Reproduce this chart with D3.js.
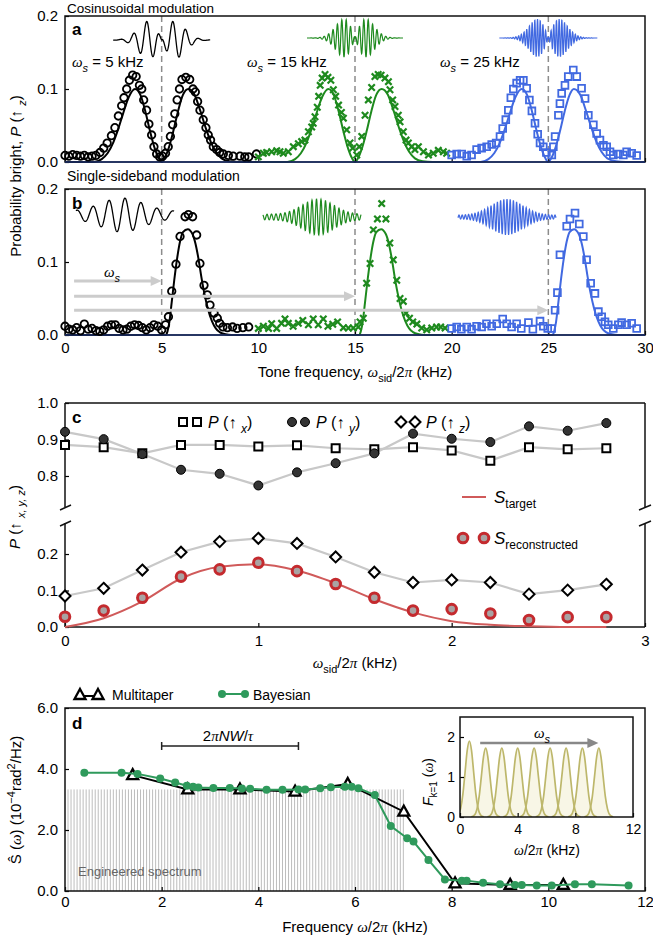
<!DOCTYPE html>
<html>
<head>
<meta charset="utf-8">
<script src="https://d3js.org/d3.v7.min.js"></script>
<style>
  body { margin: 0; background: #fff; }
</style>
</head>
<body>
<script>
// ---------- data ----------

// panel a : cosinusoidal modulation, data + fits  [tone kHz, P]
var aBlackPts = [[0,0.009],[0.2,0.008],[0.4,0.010],[0.6,0.009],[0.8,0.008],[1.0,0.009],[1.2,0.007],[1.4,0.008],[1.6,0.009],
  [1.81,0.013],[2.0,0.019],[2.18,0.026],[2.4,0.036],[2.58,0.047],[2.76,0.063],[2.93,0.077],[3.05,0.088],[3.19,0.1],[3.33,0.112],
  [3.5,0.119],[3.68,0.117],[3.85,0.105],[3.97,0.1],[4.07,0.085],[4.22,0.071],[4.34,0.052],[4.48,0.037],[4.6,0.021],[4.74,0.011],
  [4.9,0.007],[5.05,0.008],[5.2,0.012],[5.34,0.021],[5.45,0.035],[5.57,0.051],[5.68,0.066],[5.8,0.085],[5.92,0.1],[6.05,0.113],
  [6.25,0.116],[6.45,0.113],[6.62,0.1],[6.74,0.096],[6.86,0.083],[6.98,0.071],[7.15,0.058],[7.29,0.047],[7.41,0.037],[7.53,0.03],
  [7.67,0.021],[7.84,0.017],[8.0,0.013],[8.19,0.011],[8.45,0.009],[8.7,0.008],[9.05,0.008],[9.3,0.007],[9.5,0.007],[9.9,0.011]];
var aGreenPts = [[10.0,0.007],[10.26,0.012],[10.43,0.013],[10.69,0.014],[10.95,0.0155],[11.12,0.014],[11.29,0.012],[11.55,0.014],
  [11.81,0.021],[12.07,0.025],[12.24,0.028],[12.41,0.03],[12.59,0.0415],[12.76,0.048],[12.84,0.053],[12.93,0.062],[13.05,0.075],
  [13.12,0.09],[13.2,0.105],[13.3,0.115],[13.45,0.12],[13.6,0.116],[13.75,0.112],[13.88,0.099],[14.0,0.09],[14.15,0.078],[14.3,0.068],
  [14.4,0.06],[14.57,0.044],[14.74,0.026],[14.88,0.019],[15.09,0.0096],[15.22,0.021],[15.35,0.035],[15.52,0.064],[15.69,0.085],
  [15.86,0.102],[16.03,0.117],[16.2,0.12],[16.35,0.119],[16.55,0.115],[16.73,0.11],[16.81,0.099],[16.95,0.085],[17.07,0.076],
  [17.24,0.064],[17.33,0.055],[17.5,0.0415],[17.64,0.03],[17.76,0.026],[17.93,0.021],[18.1,0.017],[18.28,0.021],[18.54,0.014],
  [18.8,0.0096],[19.05,0.012],[19.31,0.016],[19.57,0.014],[19.74,0.012]];
var aBluePts = [[20.0,0.0096],[20.26,0.011],[20.52,0.011],[20.78,0.008],[21.03,0.0096],[21.29,0.017],[21.55,0.019],[21.81,0.021],
  [22.07,0.024],[22.3,0.026],[22.5,0.035],[22.64,0.046],[22.8,0.058],[22.93,0.071],[23.06,0.088],[23.19,0.1],[23.36,0.108],
  [23.54,0.112],[23.71,0.112],[23.88,0.101],[24.02,0.085],[24.15,0.07],[24.31,0.053],[24.45,0.038],[24.57,0.026],[24.74,0.021],
  [24.9,0.013],[25.18,0.0096],[25.26,0.021],[25.35,0.035],[25.52,0.064],[25.6,0.08],[25.69,0.094],[25.86,0.105],[26.03,0.117],
  [26.29,0.126],[26.47,0.117],[26.72,0.101],[26.9,0.087],[27.07,0.064],[27.33,0.051],[27.5,0.039],[27.67,0.03],[27.85,0.023],
  [28.02,0.021],[28.19,0.014],[28.36,0.0096],[28.62,0.011],[28.88,0.0096],[29.05,0.014],[29.31,0.012],[29.57,0.009]];
var aBlackFit = [[0,0],[1.5,0],[1.9,0.004],[2.2,0.012],[2.5,0.027],[2.75,0.045],[3.0,0.066],[3.3,0.089],[3.62,0.1],[3.9,0.092],
  [4.15,0.07],[4.4,0.042],[4.65,0.018],[4.85,0.005],[5.0,0],[5.15,0.005],[5.35,0.018],[5.6,0.042],[5.85,0.07],[6.1,0.092],
  [6.38,0.1],[6.7,0.092],[7.0,0.07],[7.3,0.045],[7.55,0.027],[7.8,0.014],[8.1,0.005],[8.5,0.001],[9.0,0],[10,0]];
var aGreenFit = [[10,0],[11.5,0],[11.9,0.004],[12.2,0.012],[12.5,0.027],[12.75,0.045],[13.0,0.066],[13.3,0.089],[13.62,0.1],[13.9,0.092],
  [14.15,0.07],[14.4,0.042],[14.65,0.018],[14.85,0.005],[15.0,0],[15.15,0.005],[15.35,0.018],[15.6,0.042],[15.85,0.07],[16.1,0.092],
  [16.38,0.1],[16.7,0.092],[17.0,0.07],[17.3,0.045],[17.55,0.027],[17.8,0.014],[18.1,0.005],[18.5,0.001],[19.0,0],[20,0]];
var aBlueFit = [[20,0],[21.5,0],[21.9,0.004],[22.2,0.012],[22.5,0.027],[22.75,0.045],[23.0,0.066],[23.3,0.089],[23.62,0.1],[23.9,0.092],
  [24.15,0.07],[24.4,0.042],[24.65,0.018],[24.85,0.005],[25.0,0],[25.15,0.005],[25.35,0.018],[25.6,0.042],[25.85,0.07],[26.1,0.092],
  [26.32,0.1],[26.65,0.092],[26.95,0.07],[27.25,0.045],[27.5,0.027],[27.75,0.014],[28.05,0.005],[28.5,0.001],[29.0,0],[30,0]];

// panel b : single-sideband modulation
var bBlackPts = [[0,0.012],[0.2,0.008],[0.4,0.007],[0.6,0.010],[0.8,0.006],[1.0,0.015],[1.2,0.008],[1.4,0.009],[1.6,0.006],
  [1.8,0.005],[2.0,0.007],[2.2,0.012],[2.4,0.014],[2.6,0.014],[2.8,0.009],[3.0,0.007],[3.2,0.008],[3.4,0.012],[3.6,0.014],
  [3.8,0.013],[4.0,0.010],[4.2,0.007],[4.4,0.010],[4.6,0.014],[4.8,0.012],[5.0,0.007],[5.2,0.014],[5.35,0.025],[5.52,0.06],
  [5.74,0.097],[5.95,0.135],[6.21,0.162],[6.38,0.165],[6.6,0.162],[6.81,0.137],[6.98,0.098],[7.19,0.068],[7.36,0.055],[7.5,0.041],
  [7.71,0.03],[7.88,0.023],[8.0,0.016],[8.17,0.011],[8.4,0.01],[8.67,0.011],[8.9,0.009],[9.2,0.01],[9.5,0.011]];
var bGreenPts = [[10.0,0.009],[10.26,0.012],[10.53,0.009],[10.69,0.0155],[10.95,0.009],[11.2,0.016],[11.38,0.022],[11.55,0.016],
  [11.8,0.012],[12.07,0.016],[12.3,0.02],[12.59,0.014],[12.84,0.022],[13.1,0.014],[13.36,0.022],[13.6,0.012],[13.85,0.0147],
  [14.1,0.018],[14.4,0.01],[14.66,0.0096],[14.91,0.0096],[15.17,0.011],[15.26,0.018],[15.43,0.023],[15.6,0.071],[15.78,0.098],
  [15.95,0.144],[16.16,0.159],[16.38,0.18],[16.6,0.159],[16.8,0.126],[16.98,0.103],[17.16,0.075],[17.33,0.05],[17.5,0.046],
  [17.64,0.03],[17.82,0.023],[17.99,0.018],[18.2,0.015],[18.45,0.0096],[18.71,0.007],[18.97,0.0096],[19.22,0.011],[19.43,0.011],[19.66,0.0096]];
var bBluePts = [[20.0,0.009],[20.26,0.011],[20.5,0.008],[20.78,0.011],[21.03,0.008],[21.29,0.012],[21.55,0.011],[21.8,0.0155],
  [22.07,0.012],[22.33,0.0155],[22.64,0.022],[22.85,0.0155],[23.1,0.011],[23.36,0.0155],[23.6,0.009],[23.97,0.017],[24.2,0.008],
  [24.57,0.019],[24.74,0.012],[24.97,0.009],[25.17,0.009],[25.35,0.034],[25.47,0.058],[25.6,0.11],[25.95,0.149],[26.12,0.159],
  [26.38,0.167],[26.6,0.152],[26.81,0.135],[26.98,0.103],[27.19,0.071],[27.41,0.057],[27.59,0.032],[27.76,0.025],[27.93,0.018],
  [28.1,0.014],[28.36,0.009],[28.62,0.014],[28.79,0.017],[29.05,0.014],[29.31,0.016],[29.57,0.009]];
var bBlackFit = [[0,0],[5.2,0],[5.3,0.005],[5.4,0.018],[5.52,0.045],[5.65,0.075],[5.8,0.105],[5.95,0.128],[6.1,0.141],[6.35,0.145],
  [6.6,0.138],[6.75,0.125],[6.9,0.105],[7.05,0.08],[7.2,0.058],[7.4,0.035],[7.6,0.019],[7.8,0.009],[8.0,0.004],[8.3,0.001],[8.6,0],[10,0]];
var bGreenFit = [[10,0],[15.2,0],[15.3,0.005],[15.4,0.018],[15.52,0.045],[15.65,0.075],[15.8,0.105],[15.95,0.128],[16.1,0.141],[16.35,0.145],
  [16.6,0.138],[16.75,0.125],[16.9,0.105],[17.05,0.08],[17.2,0.058],[17.4,0.035],[17.6,0.019],[17.8,0.009],[18.0,0.004],[18.3,0.001],[18.6,0],[20,0]];
var bBlueFit = [[20,0],[25.2,0],[25.3,0.005],[25.4,0.018],[25.52,0.045],[25.65,0.075],[25.8,0.105],[25.95,0.128],[26.1,0.141],[26.33,0.145],
  [26.58,0.138],[26.73,0.125],[26.88,0.105],[27.03,0.08],[27.18,0.058],[27.38,0.035],[27.58,0.019],[27.78,0.009],[27.98,0.004],[28.3,0.001],[28.6,0],[30,0]];

var toneFreqs = [5, 15, 25];          // omega_s, kHz
var arrowLevels = [0.074, 0.053, 0.034];
var abTicks = [0, 5, 10, 15, 20, 25, 30];

// panel c
var cFreq  = [0, 0.2, 0.4, 0.6, 0.8, 1.0, 1.2, 1.4, 1.6, 1.8, 2.0, 2.2, 2.4, 2.6, 2.8];
var cPx    = [0.885,0.879,0.862,0.885,0.885,0.881,0.884,0.876,0.873,0.879,0.870,0.842,0.879,0.873,0.876];
var cPy    = [0.921,0.901,0.860,0.817,0.806,0.774,0.810,0.835,0.862,0.916,0.902,0.893,0.936,0.924,0.945];
var cPz    = [0.085,0.106,0.156,0.205,0.234,0.243,0.229,0.192,0.150,0.122,0.129,0.122,0.090,0.101,0.117];
var cRecon = [0.028,0.045,0.080,0.138,0.158,0.176,0.153,0.118,0.080,0.045,0.049,0.037,0.019,0.027,0.027];
var cTarget= [0.000,0.024,0.070,0.133,0.165,0.172,0.155,0.120,0.076,0.040,0.016,0.006,0.002,0.000,0.000];

// panel d
var mtFreq = [1.4, 2.54, 3.62, 4.76, 5.85, 7.01, 8.07, 9.21, 10.31];
var mtVal  = [3.80, 3.33, 3.33, 3.26, 3.51, 2.60, 0.25, 0.20, 0.20];
var bayFreq = [0.4,1.17,1.5,1.97,2.28,2.52,2.65,2.76,3.07,3.41,3.66,3.83,4.17,4.5,4.83,4.97,5.28,5.5,5.79,5.93,6.07,
  6.41,6.74,7.08,7.21,7.52,7.86,8.21,8.31,8.65,9.0,9.31,9.45,9.76,10.07,10.55,10.9,11.66];
var bayVal  = [3.88,3.88,3.84,3.69,3.56,3.45,3.42,3.39,3.38,3.38,3.36,3.35,3.32,3.32,3.33,3.33,3.37,3.40,3.42,3.42,3.37,
  3.15,2.13,1.73,1.62,1.02,0.38,0.34,0.34,0.27,0.22,0.20,0.20,0.18,0.18,0.22,0.22,0.18];
var combStep = 0.0625, combEnd = 7.0, combLevel = 3.33;   // engineered tone comb
var nwBand = [2.0, 4.83];

// inset: filter functions F_{k=1}
var fCenters = [0.65, 1.78, 2.9, 4.0, 5.14, 6.25, 7.36, 8.49, 9.63];
var fPeaks   = [1.9, 1.72, 1.72, 1.72, 1.72, 1.72, 1.72, 1.72, 1.72];
var fShapeDx = [-1.0,-0.8,-0.6,-0.45,-0.3,-0.15,0,0.15,0.3,0.45,0.6,0.8,1.0];
var fShapeY  = [0.003,0.022,0.118,0.30,0.586,0.875,1,0.875,0.586,0.30,0.118,0.022,0.003];

// ---------- drawing ----------
var SANS = '"Liberation Sans", Arial, Helvetica, sans-serif';
var SERIF = '"Liberation Serif", "Times New Roman", serif';
var GREEN = "#1e8a1e", BLUE = "#4169e1", RED = "#c42a2e", BAYG = "#2f9a5c";

var svg = d3.select("body").append("svg")
    .attr("width", 653).attr("height", 937)
    .style("font-family", SANS);

function txt(p, x, y, fs, anchor) {
  return p.append("text").attr("x", x).attr("y", y).attr("font-size", fs)
    .attr("text-anchor", anchor || "start").attr("fill", "#000");
}
// text with sub/superscripts and italic greek
function rich(t, fs, parts) {
  var shift = 0;
  parts.forEach(function(p) {
    if (typeof p === "string") p = {t: p};
    var ts = t.append("tspan").text(p.t);
    var want = p.sub ? Math.round(fs * 0.3) : (p.sup ? -Math.round(fs * 0.4) : 0);
    if (want !== shift) { ts.attr("dy", want - shift); shift = want; }
    if (p.sub || p.sup) ts.attr("font-size", Math.round(fs * 0.72));
    if (p.it) ts.attr("font-style", "italic");
    if (p.gr) ts.attr("font-family", SERIF).attr("font-style", "italic");
  });
  return t;
}
function styleAxis(g, fs) {
  g.select(".domain").remove();
  g.selectAll(".tick line").attr("stroke", "#000").attr("stroke-width", 1.2);
  g.selectAll(".tick text").attr("font-size", fs).attr("font-family", SANS).attr("fill", "#000");
}
function crossPath(s) { return "M" + (-s) + "," + (-s) + "L" + s + "," + s + "M" + (-s) + "," + s + "L" + s + "," + (-s); }

// decorative waveform pictograms (envelope x carrier)
function wave(g, cx, cy, halfW, amp, period, phase, env, color, sw) {
  var pts = d3.range(-halfW, halfW + 0.01, 0.2).map(function(u) {
    return [cx + u, cy - amp * env(u) * Math.cos(2 * Math.PI * (u - phase) / period)];
  });
  g.append("path").attr("d", d3.line()(pts)).attr("fill", "none")
    .attr("stroke", color).attr("stroke-width", sw);
}
function twoLobe(s) { return function(u) { var r = Math.abs(u) / s; return r * Math.exp(0.5 * (1 - r * r)); }; }
function oneLobe(floor, c, w) { return function(u) { return floor + (1 - floor) * Math.exp(-Math.pow((u - c) / w, 2)); }; }

// ===== panels a & b =====
var xAB = d3.scaleLinear().domain([0, 30]).range([65, 645]);
var yA = d3.scaleLinear().domain([0, 0.2]).range([162, 16]);
var yB = d3.scaleLinear().domain([0, 0.2]).range([335, 189]);

function drawSpecPanel(y, fits, sets, showX) {
  var g = svg.append("g");
  toneFreqs.forEach(function(f) {
    g.append("line").attr("x1", xAB(f)).attr("x2", xAB(f)).attr("y1", y(0.2)).attr("y2", y(0))
      .attr("stroke", "#8c8c8c").attr("stroke-width", 1.5).attr("stroke-dasharray", "6,4");
  });
  var line = d3.line().x(function(d) { return xAB(d[0]); }).y(function(d) { return y(d[1]); })
    .curve(d3.curveMonotoneX);
  fits.forEach(function(f) {
    g.append("path").attr("d", line(f.d)).attr("fill", "none").attr("stroke", f.c).attr("stroke-width", 2);
  });
  var ax = d3.axisLeft(y).tickValues([0, 0.1, 0.2]).tickFormat(d3.format(".1f")).tickSize(-4).tickPadding(7);
  styleAxis(g.append("g").attr("transform", "translate(65,0)").call(ax), 15);
  var bx = d3.axisBottom(xAB).tickValues(abTicks).tickSize(-4).tickPadding(7)
    .tickFormat(showX ? d3.format("d") : "");
  styleAxis(g.append("g").attr("transform", "translate(0," + y(0) + ")").call(bx), 15);
  g.append("rect").attr("x", 65).attr("y", y(0.2)).attr("width", 580).attr("height", y(0) - y(0.2))
    .attr("fill", "none").attr("stroke", "#111").attr("stroke-width", 1.5);
  g.append("line").attr("x1", 65).attr("x2", 645).attr("y1", y(0)).attr("y2", y(0))
    .attr("stroke", "#1b2f6b").attr("stroke-width", 1.6);
  sets.forEach(function(s) {
    var m = g.append("g").selectAll("path").data(s.d).enter().append("path")
      .attr("transform", function(d) { return "translate(" + xAB(d[0]) + "," + y(d[1]) + ")"; })
      .attr("fill", "none").attr("stroke", s.c).attr("stroke-width", s.sw);
    if (s.k === "o") m.attr("d", d3.symbol(d3.symbolCircle, 44));
    if (s.k === "x") m.attr("d", crossPath(3.2));
    if (s.k === "s") m.attr("d", d3.symbol(d3.symbolSquare, 46));
  });
  return g;
}

var gA = drawSpecPanel(yA,
  [{d: aBlackFit, c: "#000"}, {d: aGreenFit, c: GREEN}, {d: aBlueFit, c: BLUE}],
  [{d: aBlackPts, c: "#000", k: "o", sw: 1.8}, {d: aGreenPts, c: GREEN, k: "x", sw: 2.2}, {d: aBluePts, c: BLUE, k: "s", sw: 1.8}],
  false);
var gB = drawSpecPanel(yB,
  [{d: bBlackFit, c: "#000"}, {d: bGreenFit, c: GREEN}, {d: bBlueFit, c: BLUE}],
  [{d: bBlackPts, c: "#000", k: "o", sw: 1.8}, {d: bGreenPts, c: GREEN, k: "x", sw: 2.2}, {d: bBluePts, c: BLUE, k: "s", sw: 1.8}],
  true);

// pictograms
wave(gA, xAB(5), 40, 48.5, 19, 13, -2, twoLobe(13), "#000", 1.3);
wave(gA, xAB(15), 38, 48, 19, 4.4, 0, twoLobe(11), GREEN, 1.2);
wave(gA, xAB(25), 38, 49, 19, 2.7, 0, twoLobe(11), BLUE, 1.2);
wave(gB, 125, 215, 49, 17, 16, 0, oneLobe(0.2, -3, 30), "#000", 1.3);
wave(gB, 312, 217, 49, 18, 4.5, 0, oneLobe(0.15, 6, 22), GREEN, 1.2);
wave(gB, 507, 217, 49, 18, 3.2, 0, oneLobe(0.1, 0, 22), BLUE, 1.2);

// sideband arrows
toneFreqs.forEach(function(f, i) {
  var yy = yB(arrowLevels[i]), x1 = xAB(0.47), x2 = xAB(f);
  gB.append("line").attr("x1", x1).attr("x2", x2 - 9).attr("y1", yy).attr("y2", yy)
    .attr("stroke", "#cccccc").attr("stroke-width", 3);
  gB.append("path").attr("d", "M" + x2 + "," + yy + "L" + (x2 - 11) + "," + (yy - 5) + "L" + (x2 - 11) + "," + (yy + 5) + "Z")
    .attr("fill", "#cccccc");
});
rich(txt(gB, 104, 277, 15), 15, [{t: "ω", gr: 1}, {t: "s", sub: 1, it: 1}]);

// labels a/b
txt(svg, 67, 13, 13.5).text("Cosinusoidal modulation");
txt(svg, 67, 181, 14).text("Single-sideband modulation");
txt(svg, 72, 35, 17).attr("font-weight", "bold").text("a");
txt(svg, 72, 209, 17).attr("font-weight", "bold").text("b");
[[72, "5"], [247, "15"], [440, "25"]].forEach(function(d) {
  rich(txt(svg, d[0], 67, 15), 15, [{t: "ω", gr: 1}, {t: "s", sub: 1, it: 1}, " = " + d[1] + " kHz"]);
});
rich(txt(svg, 355, 377, 15, "middle"), 15, ["Tone frequency, ", {t: "ω", gr: 1}, {t: "sid", sub: 1}, "/2", {t: "π", gr: 1}, " (kHz)"]);
rich(txt(svg, 0, 0, 15, "middle").attr("transform", "translate(21,176) rotate(-90)"), 15,
  ["Probability bright, ", {t: "P", it: 1}, " (↑ ", {t: "z", sub: 1, it: 1}, ")"]);

// ===== panel c =====
var xC = d3.scaleLinear().domain([0, 3]).range([65, 645]);
var yCu = d3.scaleLinear().domain([0.715, 1.0]).range([507, 403]);
var yCl = d3.scaleLinear().domain([0, 0.285]).range([627, 523]);
var gC = svg.append("g");

var up = d3.axisLeft(yCu).tickValues([0.8, 0.9, 1.0]).tickFormat(d3.format(".1f")).tickSize(-4).tickPadding(7);
styleAxis(gC.append("g").attr("transform", "translate(65,0)").call(up), 15);
var lo = d3.axisLeft(yCl).tickValues([0, 0.1, 0.2]).tickFormat(d3.format(".1f")).tickSize(-4).tickPadding(7);
styleAxis(gC.append("g").attr("transform", "translate(65,0)").call(lo), 15);
var cb = d3.axisBottom(xC).tickValues([0, 1, 2, 3]).tickFormat(d3.format("d")).tickSize(-4).tickPadding(8);
styleAxis(gC.append("g").attr("transform", "translate(0,627)").call(cb), 15);

var frame = [[65, 403, 645, 403], [65, 403, 65, 507], [65, 523, 65, 627], [645, 403, 645, 507], [645, 523, 645, 627],
  [65, 627, 645, 627], [60, 510, 71, 505], [60, 526, 71, 521], [639, 510, 651, 505], [639, 526, 651, 521]];
gC.selectAll(".fr").data(frame).enter().append("line")
  .attr("x1", function(d) { return d[0]; }).attr("y1", function(d) { return d[1]; })
  .attr("x2", function(d) { return d[2]; }).attr("y2", function(d) { return d[3]; })
  .attr("stroke", "#111").attr("stroke-width", 1.5);

function cLine(vals, yS, color, w, curve) {
  var l = d3.line().x(function(d, i) { return xC(cFreq[i]); }).y(function(d) { return yS(d); });
  if (curve) l.curve(d3.curveMonotoneX);
  gC.append("path").attr("d", l(vals)).attr("fill", "none").attr("stroke", color).attr("stroke-width", w);
}
cLine(cPx, yCu, "#c8c8c8", 2.2);
cLine(cPy, yCu, "#c8c8c8", 2.2);
cLine(cPz, yCl, "#c8c8c8", 2.2);
cLine(cTarget, yCl, "#d05a5a", 2, true);

var sqPath = "M-4,-4H4V4H-4Z", diaPath = "M0,-5.5L5.5,0L0,5.5L-5.5,0Z";
function cMarks(vals, yS, fn) {
  var s = gC.append("g").selectAll("g").data(vals).enter().append("g")
    .attr("transform", function(d, i) { return "translate(" + xC(cFreq[i]) + "," + yS(d) + ")"; });
  fn(s);
}
cMarks(cPx, yCu, function(s) { s.append("path").attr("d", sqPath).attr("fill", "#fff").attr("stroke", "#000").attr("stroke-width", 2); });
cMarks(cPy, yCu, function(s) { s.append("circle").attr("r", 4.5).attr("fill", "#333").attr("stroke", "#000").attr("stroke-width", 1); });
cMarks(cPz, yCl, function(s) { s.append("path").attr("d", diaPath).attr("fill", "#fff").attr("stroke", "#000").attr("stroke-width", 2); });
cMarks(cRecon, yCl, function(s) { s.append("circle").attr("r", 4.8).attr("fill", "#a9a3a3").attr("stroke", RED).attr("stroke-width", 3); });

// legend c
gC.append("path").attr("d", sqPath).attr("transform", "translate(183,422)").attr("fill", "#fff").attr("stroke", "#000").attr("stroke-width", 2);
gC.append("path").attr("d", sqPath).attr("transform", "translate(197,422)").attr("fill", "#fff").attr("stroke", "#000").attr("stroke-width", 2);
rich(txt(gC, 208, 428, 16), 16, [{t: "P", it: 1}, " (↑ ", {t: "x", sub: 1, it: 1}, ")"]);
gC.append("circle").attr("cx", 292).attr("cy", 422).attr("r", 4.5).attr("fill", "#333").attr("stroke", "#000");
gC.append("circle").attr("cx", 305).attr("cy", 422).attr("r", 4.5).attr("fill", "#333").attr("stroke", "#000");
rich(txt(gC, 316, 428, 16), 16, [{t: "P", it: 1}, " (↑ ", {t: "y", sub: 1, it: 1}, ")"]);
gC.append("path").attr("d", diaPath).attr("transform", "translate(401,422)").attr("fill", "#fff").attr("stroke", "#000").attr("stroke-width", 2);
gC.append("path").attr("d", diaPath).attr("transform", "translate(415,422)").attr("fill", "#fff").attr("stroke", "#000").attr("stroke-width", 2);
rich(txt(gC, 426, 428, 16), 16, [{t: "P", it: 1}, " (↑ ", {t: "z", sub: 1, it: 1}, ")"]);
gC.append("line").attr("x1", 462).attr("x2", 486).attr("y1", 497).attr("y2", 497).attr("stroke", "#d05a5a").attr("stroke-width", 2);
rich(txt(gC, 494, 503, 17), 17, [{t: "S", it: 1}, {t: "target", sub: 1}]);
gC.append("circle").attr("cx", 463).attr("cy", 538).attr("r", 4.8).attr("fill", "#a9a3a3").attr("stroke", RED).attr("stroke-width", 3);
gC.append("circle").attr("cx", 484).attr("cy", 538).attr("r", 4.8).attr("fill", "#a9a3a3").attr("stroke", RED).attr("stroke-width", 3);
rich(txt(gC, 494, 544, 17), 17, [{t: "S", it: 1}, {t: "reconstructed", sub: 1}]);

txt(svg, 72, 423, 17).attr("font-weight", "bold").text("c");
rich(txt(svg, 355, 668, 15, "middle"), 15, [{t: "ω", gr: 1}, {t: "sid", sub: 1}, "/2", {t: "π", gr: 1}, " (kHz)"]);
rich(txt(svg, 0, 0, 15, "middle").attr("transform", "translate(20,517) rotate(-90)"), 15,
  [{t: "P", it: 1}, " (↑ ", {t: "x, y, z", sub: 1, it: 1}, ")"]);

// ===== panel d =====
var xD = d3.scaleLinear().domain([0, 12]).range([65, 645]);
var yD = d3.scaleLinear().domain([0, 6]).range([891, 708]);
var gD = svg.append("g");

gD.selectAll(".comb").data(d3.range(combStep, combEnd + 1e-6, combStep)).enter().append("line")
  .attr("x1", function(d) { return xD(d); }).attr("x2", function(d) { return xD(d); })
  .attr("y1", yD(0)).attr("y2", yD(combLevel)).attr("stroke", "#bdbdbd").attr("stroke-width", 1);
txt(gD, 78, 876, 13).attr("fill", "#666").text("Engineered spectrum");

var dy = d3.axisLeft(yD).tickValues([0, 2, 4, 6]).tickFormat(d3.format(".1f")).tickSize(-4).tickPadding(7);
styleAxis(gD.append("g").attr("transform", "translate(65,0)").call(dy), 15);
var dx = d3.axisBottom(xD).tickValues([0, 2, 4, 6, 8, 10, 12]).tickFormat(d3.format("d")).tickSize(-4).tickPadding(5);
styleAxis(gD.append("g").attr("transform", "translate(0,891)").call(dx), 15);
gD.append("rect").attr("x", 65).attr("y", 708).attr("width", 580).attr("height", 183)
  .attr("fill", "none").attr("stroke", "#111").attr("stroke-width", 1.5);

var mtLine = d3.line().x(function(d, i) { return xD(mtFreq[i]); }).y(function(d) { return yD(d); });
gD.append("path").attr("d", mtLine(mtVal)).attr("fill", "none").attr("stroke", "#000").attr("stroke-width", 2);
var triPath = "M0,-6L5.5,4L-5.5,4Z";
gD.append("g").selectAll("path").data(mtVal).enter().append("path").attr("d", triPath)
  .attr("transform", function(d, i) { return "translate(" + xD(mtFreq[i]) + "," + yD(d) + ")"; })
  .attr("fill", "#fff").attr("stroke", "#000").attr("stroke-width", 2.3);
var bayLine = d3.line().x(function(d, i) { return xD(bayFreq[i]); }).y(function(d) { return yD(d); });
gD.append("path").attr("d", bayLine(bayVal)).attr("fill", "none").attr("stroke", BAYG).attr("stroke-width", 2);
gD.append("g").selectAll("circle").data(bayVal).enter().append("circle")
  .attr("cx", function(d, i) { return xD(bayFreq[i]); }).attr("cy", function(d) { return yD(d); })
  .attr("r", 4).attr("fill", BAYG);

// NW bracket
var by = 746;
gD.append("path").attr("d", "M" + xD(nwBand[0]) + "," + (by - 4) + "V" + (by + 4) + "M" + xD(nwBand[0]) + "," + by +
  "H" + xD(nwBand[1]) + "M" + xD(nwBand[1]) + "," + (by - 4) + "V" + (by + 4))
  .attr("fill", "none").attr("stroke", "#222").attr("stroke-width", 1.5);
rich(txt(gD, 228, 741, 15, "middle"), 15, ["2", {t: "π", gr: 1}, {t: "NW", it: 1}, "/", {t: "τ", gr: 1}]);

// legend d
gD.append("line").attr("x1", 80).attr("x2", 98).attr("y1", 696).attr("y2", 696).attr("stroke", "#000").attr("stroke-width", 2);
[80, 98].forEach(function(x) {
  gD.append("path").attr("d", triPath).attr("transform", "translate(" + x + ",695)")
    .attr("fill", "#fff").attr("stroke", "#000").attr("stroke-width", 2.3);
});
txt(gD, 112, 700, 14).text("Multitaper");
gD.append("line").attr("x1", 222).attr("x2", 245).attr("y1", 694).attr("y2", 694).attr("stroke", BAYG).attr("stroke-width", 2);
[222, 245].forEach(function(x) { gD.append("circle").attr("cx", x).attr("cy", 694).attr("r", 4).attr("fill", BAYG); });
txt(gD, 253, 700, 14).text("Bayesian");

txt(svg, 72, 729, 17).attr("font-weight", "bold").text("d");
rich(txt(svg, 355, 932, 15, "middle"), 15, ["Frequency ", {t: "ω", gr: 1}, "/2", {t: "π", gr: 1}, " (kHz)"]);
rich(txt(svg, 0, 0, 15, "middle").attr("transform", "translate(21,800) rotate(-90)"), 15,
  ["Ŝ (", {t: "ω", gr: 1}, ") (10", {t: "−4", sup: 1}, "rad", {t: "2", sup: 1}, "/Hz)"]);

// inset
var xI = d3.scaleLinear().domain([0, 12]).range([460, 633]);
var yI = d3.scaleLinear().domain([0, 2.5]).range([817, 717]);
var gI = svg.append("g");
gI.append("rect").attr("x", 460).attr("y", 717).attr("width", 173).attr("height", 100).attr("fill", "#fff");
gI.append("clipPath").attr("id", "clipI").append("rect").attr("x", 460).attr("y", 717).attr("width", 173).attr("height", 100);
var fArea = d3.area().x(function(d) { return xI(d[0]); }).y0(yI(0)).y1(function(d) { return yI(d[1]); }).curve(d3.curveMonotoneX);
var fLine = d3.line().x(function(d) { return xI(d[0]); }).y(function(d) { return yI(d[1]); }).curve(d3.curveMonotoneX);
var fg = gI.append("g").attr("clip-path", "url(#clipI)");
fCenters.forEach(function(c, i) {
  var pts = fShapeDx.map(function(dx, j) { return [c + dx, fPeaks[i] * fShapeY[j]]; });
  fg.append("path").attr("d", fArea(pts)).attr("fill", "#f3f0d6").attr("fill-opacity", 0.6);
});
fCenters.forEach(function(c, i) {
  var pts = fShapeDx.map(function(dx, j) { return [c + dx, fPeaks[i] * fShapeY[j]]; });
  fg.append("path").attr("d", fLine(pts)).attr("fill", "none").attr("stroke", "#bdb76b").attr("stroke-width", 1.7);
});
var ay = yI(1.85), ax1 = xI(1.4), ax2 = xI(9.6);
gI.append("line").attr("x1", ax1).attr("x2", ax2 - 8).attr("y1", ay).attr("y2", ay).attr("stroke", "#888").attr("stroke-width", 2.5);
gI.append("path").attr("d", "M" + ax2 + "," + ay + "L" + (ax2 - 11) + "," + (ay - 5) + "L" + (ax2 - 11) + "," + (ay + 5) + "Z").attr("fill", "#888");
rich(txt(gI, 542, 738, 15, "middle"), 15, [{t: "ω", gr: 1}, {t: "s", sub: 1, it: 1}]);

var iy = d3.axisLeft(yI).tickValues([0, 1, 2]).tickFormat(d3.format("d")).tickSize(-4).tickPadding(5);
styleAxis(gI.append("g").attr("transform", "translate(460,0)").call(iy), 14);
var ix = d3.axisBottom(xI).tickValues([0, 4, 8, 12]).tickFormat(d3.format("d")).tickSize(-4).tickPadding(7);
styleAxis(gI.append("g").attr("transform", "translate(0,817)").call(ix), 14);
gI.append("rect").attr("x", 460).attr("y", 717).attr("width", 173).attr("height", 100)
  .attr("fill", "none").attr("stroke", "#111").attr("stroke-width", 1.5);
rich(txt(gI, 547, 855, 14, "middle"), 14, [{t: "ω", gr: 1}, "/2", {t: "π", gr: 1}, " (kHz)"]);
rich(txt(gI, 0, 0, 14, "middle").attr("transform", "translate(433,782) rotate(-90)"), 14,
  [{t: "F", it: 1}, {t: "k=1", sub: 1}, " (", {t: "ω", gr: 1}, ")"]);
</script>
</body>
</html>
